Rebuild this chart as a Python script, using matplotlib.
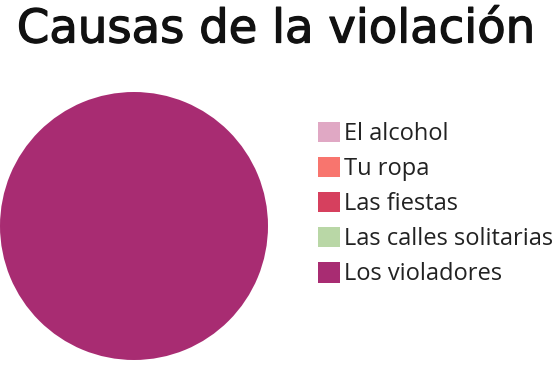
import matplotlib.pyplot as plt
import matplotlib.patheffects as pe

# datos del grafico
causas = ['El alcohol', 'Tu ropa', 'Las fiestas', 'Las calles solitarias', 'Los violadores']
valores = [0, 0, 0, 0, 100]
colores = ['#E0A8C4', '#F8756E', '#D6405E', '#B9D7A6', '#A82C72']

fig = plt.figure(figsize=(5.6, 3.67), dpi=100)

# pie axes, circle at the left
ax = fig.add_axes([0 / 560, 7 / 367, 268 / 560, 268 / 367])
wedges, _ = ax.pie(valores, colors=colores, startangle=90, counterclock=False,
                   radius=1.0, wedgeprops=dict(linewidth=0))
ax.set_xlim(-1, 1)
ax.set_ylim(-1, 1)
ax.set_aspect('equal')
ax.axis('off')

fig.text(276 / 560, 1 - 30 / 367, 'Causas de la violación', ha='center', va='center',
         fontsize=33.5, fontfamily='DejaVu Sans', fontweight='normal', color='#111111',
         path_effects=[pe.withStroke(linewidth=0.9, foreground='#111111')])

fig.legend(wedges, causas, loc='center left', bbox_to_anchor=(318 / 560, 1 - 204 / 367),
           frameon=False, prop=dict(family='Open Sans', size=17), labelcolor='#222222',
           handlelength=0.95, handleheight=0.95, handletextpad=0.15, labelspacing=0.46,
           borderpad=0, borderaxespad=0)

plt.savefig('out.png', dpi=100)
